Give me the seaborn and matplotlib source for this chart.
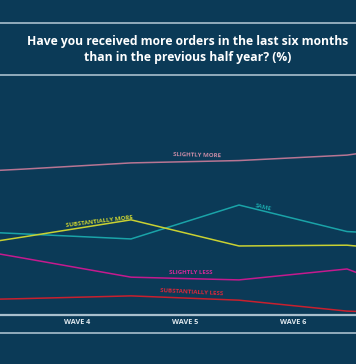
import numpy as np
import pandas as pd
import matplotlib.pyplot as plt
import matplotlib.lines as mlines
import seaborn as sns

# data: wave boundaries (points sit on the tick marks), values in %
wave_pos = [2.5, 3.5, 4.5, 5.5, 6.5, 7.5]
slightly_more = [36.0, 37.4, 39.0, 39.6, 41.0, 44.9]
same = [22.1, 20.8, 19.5, 28.2, 21.4, 20.0]
substantially_more = [15.7, 20.0, 24.4, 17.7, 17.9, 15.4]
slightly_less = [19.4, 14.6, 9.7, 9.0, 11.8, 1.5]
substantially_less = [3.6, 4.2, 4.9, 3.8, 1.0, 0.0]

wave_labels = ["WAVE 4", "WAVE 5", "WAVE 6"]
wave_centres = [4, 5, 6]
tick_pos = [3.5, 4.5, 5.5, 6.5]

series = {
    "SLIGHTLY MORE": slightly_more,
    "SAME": same,
    "SUBSTANTIALLY MORE": substantially_more,
    "SLIGHTLY LESS": slightly_less,
    "SUBSTANTIALLY LESS": substantially_less,
}
colors = {
    "SLIGHTLY MORE": "#b77593",
    "SAME": "#1aa3a8",
    "SUBSTANTIALLY MORE": "#c9d132",
    "SLIGHTLY LESS": "#c41a8e",
    "SUBSTANTIALLY LESS": "#c8202e",
}

df = pd.concat(
    [pd.DataFrame({"wave": wave_pos, "pct": v, "answer": k}) for k, v in series.items()],
    ignore_index=True,
)

bg = "#0b3a57"
grey = "#a9bfcd"

sns.set_theme(style="dark")
plt.rcParams["font.family"] = ["Open Sans", "DejaVu Sans"]

fig = plt.figure(figsize=(3.56, 3.64), dpi=100, facecolor=bg)
ax = fig.add_axes([0, 49 / 364, 1, 235 / 364])
ax.set_facecolor(bg)

sns.lineplot(data=df, x="wave", y="pct", hue="answer", palette=colors,
             linewidth=1.1, legend=False, ax=ax)

ax.set_xlim(3.5 - 23 / 108, 3.5 + 333 / 108)
ax.set_ylim(0, 235 / 3.9)

for s in ["top", "left", "right"]:
    ax.spines[s].set_visible(False)
ax.spines["bottom"].set_color(grey)
ax.spines["bottom"].set_linewidth(1.6)

ax.set_xticks(tick_pos)
ax.set_xticklabels([])
ax.tick_params(axis="x", which="major", direction="in", length=3.5, width=1, color="#e8eef2")
ax.set_xticks(wave_centres, minor=True)
ax.set_xticklabels(wave_labels, minor=True, fontweight="bold")
ax.tick_params(axis="x", which="minor", length=0, pad=3, labelsize=5.2, labelcolor="#dfe8ee")
ax.set_yticks([])
ax.set_xlabel("")
ax.set_ylabel("")
ax.grid(False)

# line labels
lab = dict(fontsize=4.4, ha="center", va="center", fontweight="bold")
ax.text(5.11, 41.0, "SLIGHTLY MORE", color="#c48aa4", rotation=-1.5, **lab)
ax.text(5.72, 27.7, "SAME", color="#1aa3a8", rotation=-13, **lab)
ax.text(4.21, 24.0, "SUBSTANTIALLY MORE", color="#c9d132", rotation=7, **lab)
ax.text(5.05, 10.9, "SLIGHTLY LESS", color="#d22a9a", **lab)
ax.text(5.06, 5.8, "SUBSTANTIALLY LESS", color="#d8283a", rotation=-3, **lab)

# header and footer rules
for ypx in [23, 75, 333]:
    yf = 1 - ypx / 364
    fig.add_artist(mlines.Line2D([0, 1], [yf, yf], transform=fig.transFigure, color=grey, linewidth=1.2))

fig.text(188 / 356, 1 - 42 / 364, "Have you received more orders in the last six months",
         color="white", fontsize=8.75, fontweight="bold", ha="center", va="center")
fig.text(188 / 356, 1 - 58 / 364, "than in the previous half year? (%)",
         color="white", fontsize=8.75, fontweight="bold", ha="center", va="center")

fig.savefig("out.png", dpi=100, facecolor=bg)
